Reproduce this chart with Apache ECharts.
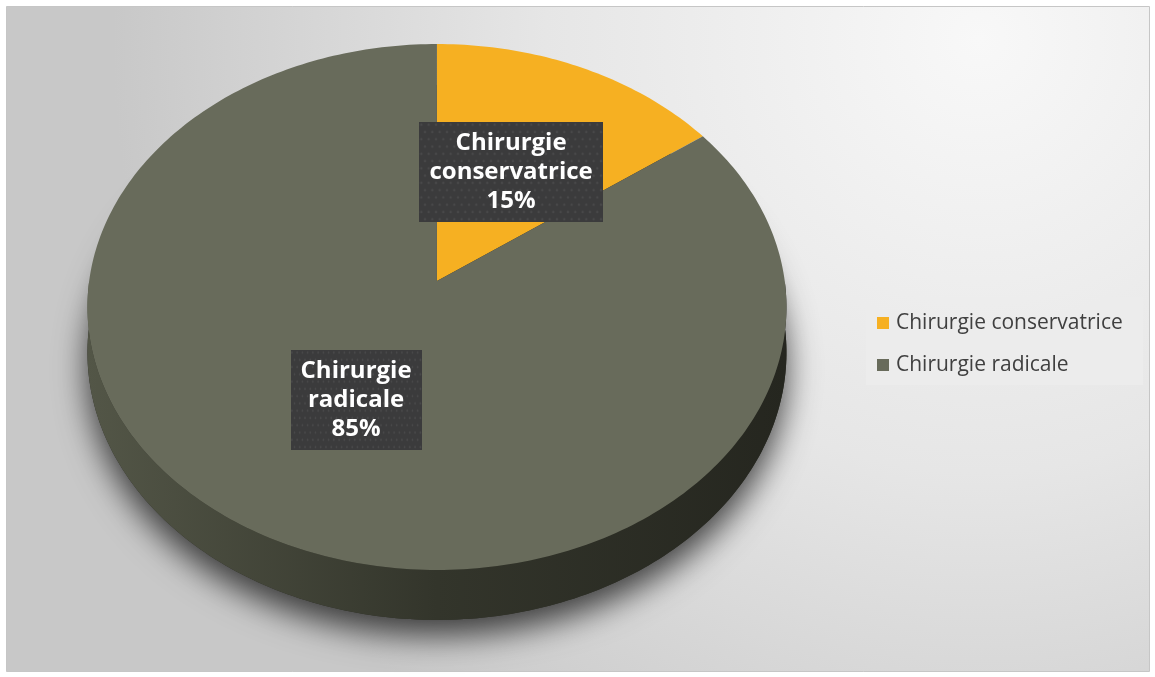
<!DOCTYPE html>
<html>
<head>
<meta charset="utf-8">
<script src="https://cdn.jsdelivr.net/npm/echarts@6/dist/echarts.min.js"></script>
<style>
  html, body { margin: 0; padding: 0; background: #ffffff; }
  #chart { width: 1155px; height: 677px; }
</style>
</head>
<body>
<div id="chart"></div>
<script>
// Surgical approach shares (%)
const categories = ['Chirurgie conservatrice', 'Chirurgie radicale'];
const values = [15, 85];

// Slice colours: top face, and side wall gradient stops
const topColors = ['#f6b022', '#686b5b'];
const wallColors = [['#c98d14', '#9b6c0e'], ['#535647', '#33352b', '#25261f']];

// Tilted disc projection: perspective strength and wall thickness
const K = 0.0989;
const DEPTH = 0.1728;
const LABEL_R = 0.49;

const total = values.reduce((a, b) => a + b, 0);
const startAngles = values.map((v, i) => values.slice(0, i).reduce((a, b) => a + b, 0) / total * 360);

// Dotted fill for the data label boxes
function makeDotCanvas() {
  const c = document.createElement('canvas');
  c.width = 200; c.height = 110;
  const g = c.getContext('2d');
  g.fillStyle = '#3b3b3c';
  g.fillRect(0, 0, c.width, c.height);
  g.fillStyle = 'rgba(255,255,255,0.07)';
  for (let y = 3, row = 0; y < c.height; y += 8, row++) {
    for (let x = (row % 2) * 4 + 2; x < c.width; x += 8) {
      g.beginPath(); g.arc(x, y, 1.4, 0, Math.PI * 2); g.fill();
    }
  }
  return c;
}
const dotCanvas = makeDotCanvas();

function renderSlice(params, api) {
  const i = params.seriesIndex;
  const a0 = startAngles[i];
  const a1 = a0 + values[i] / total * 360;

  // angle measured clockwise from 12 o'clock, r in disc radii, lvl 0 = top face, 1 = bottom face
  const pt = (deg, r, lvl) => {
    const t = deg * Math.PI / 180;
    const u = r * Math.sin(t), v = r * Math.cos(t);
    const w = 1 + K * v;
    return api.coord([u / w, v / w - lvl * DEPTH / w]);
  };
  const arc = (s, e, lvl) => {
    const pts = [];
    const n = Math.max(2, Math.ceil(Math.abs(e - s)));
    for (let k = 0; k <= n; k++) pts.push(pt(s + (e - s) * k / n, 1, lvl));
    return pts;
  };

  const children = [];

  if (i === 0) {
    // soft cast shadow under the whole disc
    children.push({
      type: 'polygon',
      shape: { points: arc(0, 360, 1) },
      style: {
        fill: '#2b2c24',
        shadowBlur: 32,
        shadowOffsetY: 16,
        shadowColor: 'rgba(0,0,0,0.7)'
      },
      z2: 0
    });
  }

  // visible outer wall (front half)
  const ws = Math.max(a0, 90), we = Math.min(a1, 270);
  if (we > ws) {
    const stops = wallColors[i].map((c, k, arr) => ({ offset: k / (arr.length - 1), color: c }));
    children.push({
      type: 'polygon',
      shape: { points: arc(ws, we, 0).concat(arc(ws, we, 1).reverse()) },
      style: { fill: new echarts.graphic.LinearGradient(0, 0, 1, 0, stops) },
      z2: 5
    });
  }

  // top face
  children.push({
    type: 'polygon',
    shape: { points: [pt(0, 0, 0)].concat(arc(a0, a1, 0)) },
    style: { fill: topColors[i] },
    z2: 10
  });

  // data label
  const c = pt((a0 + a1) / 2, LABEL_R, 0);
  children.push({
    type: 'text',
    x: c[0],
    y: c[1],
    style: {
      text: categories[i].replace(' ', '\n') + '\n' + values[i] + '%',
      align: 'center',
      verticalAlign: 'middle',
      font: 'bold 24px "Open Sans", Lato, sans-serif',
      lineHeight: 29,
      fill: '#ffffff',
      backgroundColor: { image: dotCanvas },
      padding: [7, 10, 6, 10],
      shadowBlur: 5,
      shadowOffsetX: 3,
      shadowOffsetY: 3,
      shadowColor: 'rgba(0,0,0,0.45)'
    },
    z2: 20
  });

  return { type: 'group', children };
}

const chart = echarts.init(document.getElementById('chart'), null, { renderer: 'canvas' });

chart.setOption({
  backgroundColor: '#ffffff',
  animation: false,
  graphic: [
    {
      type: 'rect',
      z: -10,
      silent: true,
      shape: { x: 6.5, y: 6.5, width: 1143, height: 665 },
      style: {
        fill: new echarts.graphic.RadialGradient(0.85, 0.05, 1.3, [
          { offset: 0, color: '#f8f8f8' },
          { offset: 0.5, color: '#e6e6e6' },
          { offset: 1, color: '#c8c8c8' }
        ]),
        stroke: '#c6c6c6',
        lineWidth: 1
      }
    },
    {
      type: 'rect',
      z: -5,
      silent: true,
      shape: { x: 866, y: 297, width: 277, height: 88 },
      style: { fill: 'rgba(236,236,236,0.85)' }
    }
  ],
  grid: { left: 19.6, top: 20.6, width: 834.7, height: 624.96 },
  xAxis: { type: 'value', min: -1.2, max: 1.2, show: false },
  yAxis: { type: 'value', min: -1.4, max: 1.0, show: false },
  legend: {
    data: categories,
    orient: 'vertical',
    left: 877,
    top: 310,
    padding: 0,
    itemGap: 16,
    itemWidth: 12,
    itemHeight: 12,
    icon: 'rect',
    textStyle: {
      fontFamily: '"Open Sans", Lato, sans-serif',
      fontSize: 21,
      lineHeight: 26,
      color: '#404040',
      padding: [0, 0, 0, 2]
    }
  },
  series: categories.map((name, i) => ({
    type: 'custom',
    name,
    coordinateSystem: 'cartesian2d',
    itemStyle: { color: topColors[i] },
    data: [[0, 0, values[i]]],
    encode: { x: 0, y: 1 },
    renderItem: renderSlice,
    silent: true
  }))
});
</script>
</body>
</html>
